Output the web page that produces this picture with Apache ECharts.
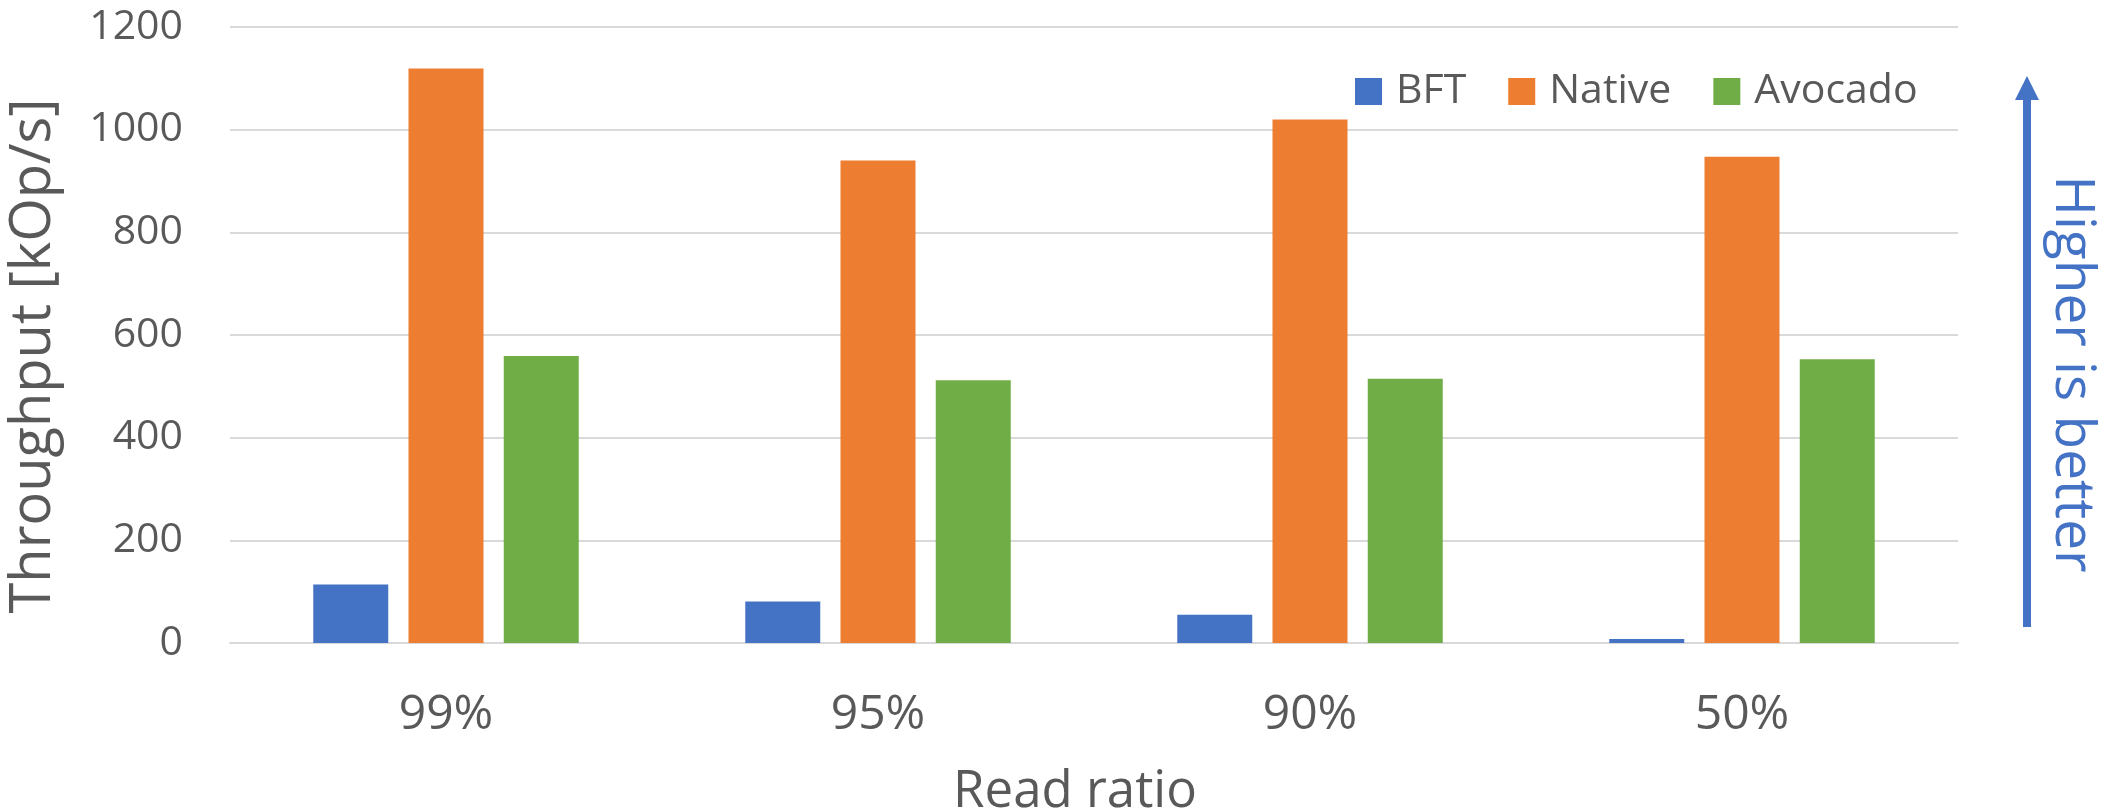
<!DOCTYPE html>
<html>
<head>
<meta charset="utf-8">
<title>Throughput by read ratio</title>
<script src="https://cdn.jsdelivr.net/npm/echarts@6/dist/echarts.min.js"></script>
<style>
  html, body { margin: 0; padding: 0; background: #ffffff; }
  #chart { width: 2121px; height: 812px; }
</style>
</head>
<body>
<div id="chart"></div>
<script>
// Read ratios on the x axis
const categories = ['99%', '95%', '90%', '50%'];

// Throughput per system, kOp/s
const bftValues = [114, 81, 55, 8];
const nativeValues = [1119, 940, 1020, 947];
const avocadoValues = [559, 512, 515, 553];

// Value axis range
const yMin = 0;
const yMax = 1200;
const yStep = 200;

const textColor = '#595959';
const fontFamily = '"Open Sans", "Noto Sans", sans-serif';

const chart = echarts.init(document.getElementById('chart'), null, { renderer: 'canvas' });

const barStyle = { barWidth: 75, barGap: '27%' };

chart.setOption({
  animation: false,
  backgroundColor: '#ffffff',
  textStyle: { fontFamily: fontFamily, color: textColor },
  grid: { left: 230, right: 163, top: 27, bottom: 169, containLabel: false, outerBoundsMode: 'none' },
  legend: {
    left: 1350,
    top: 66,
    itemWidth: 27,
    itemHeight: 27,
    itemGap: 42,
    icon: 'rect',
    textStyle: { fontSize: 41, color: textColor, fontFamily: fontFamily, lineHeight: 41, padding: [0, 0, 0, 9] },
    data: ['BFT', 'Native', 'Avocado']
  },
  xAxis: {
    type: 'category',
    data: categories,
    name: 'Read ratio',
    nameLocation: 'middle',
    nameGap: 124,
    nameTextStyle: { fontSize: 51, color: textColor, fontFamily: fontFamily, padding: [0, 38, 0, 0] },
    axisLine: { show: true, lineStyle: { color: '#d9d9d9', width: 2 } },
    axisTick: { show: false },
    axisLabel: { fontSize: 48, color: textColor, margin: 48 }
  },
  yAxis: {
    type: 'value',
    min: yMin,
    max: yMax,
    interval: yStep,
    name: 'Throughput [kOp/s]',
    nameLocation: 'middle',
    nameGap: 168,
    nameTextStyle: { fontSize: 56, color: textColor, fontFamily: fontFamily, padding: [0, 42, 0, 0] },
    axisLine: { show: false },
    axisTick: { show: false },
    axisLabel: { fontSize: 41, color: textColor, margin: 47, formatter: (v) => String(v) },
    splitLine: { show: true, lineStyle: { color: '#d9d9d9', width: 2 } }
  },
  series: [
    Object.assign({ name: 'BFT', type: 'bar', data: bftValues, itemStyle: { color: '#4472C4' } }, barStyle),
    Object.assign({ name: 'Native', type: 'bar', data: nativeValues, itemStyle: { color: '#ED7D31' } }, barStyle),
    Object.assign({ name: 'Avocado', type: 'bar', data: avocadoValues, itemStyle: { color: '#70AD47' } }, barStyle)
  ],
  graphic: [
    // "Higher is better" arrow beside the plot
    {
      type: 'line',
      shape: { x1: 2027, y1: 627, x2: 2027, y2: 96 },
      style: { stroke: '#4472C4', lineWidth: 8 }
    },
    {
      type: 'polygon',
      shape: { points: [[2015, 100], [2039, 100], [2027, 76]] },
      style: { fill: '#4472C4' }
    },
    {
      type: 'text',
      x: 2072,
      y: 374,
      rotation: -Math.PI / 2,
      style: {
        text: 'Higher is better',
        fill: '#4472C4',
        font: '55px ' + fontFamily,
        align: 'center',
        verticalAlign: 'middle'
      }
    }
  ]
});
</script>
</body>
</html>
